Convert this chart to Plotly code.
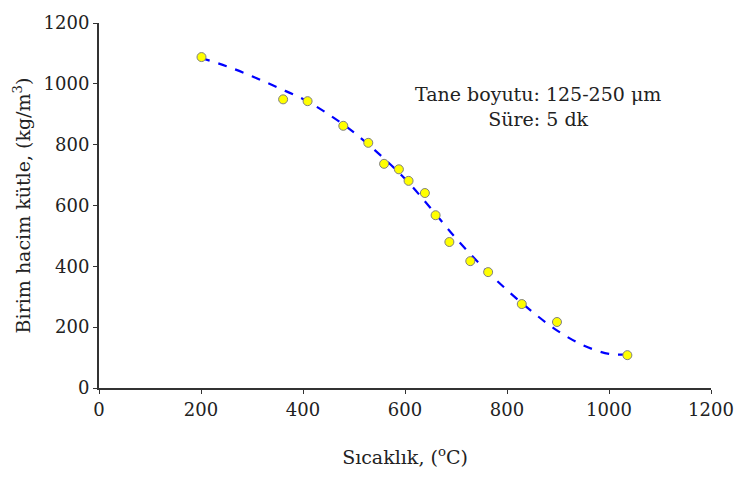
import plotly.graph_objects as go

# Measured points
temp_c = [201, 361, 409, 479, 528, 559, 588, 607, 639, 660, 687, 728, 763, 829, 898, 1036]
density = [1088, 949, 943, 862, 806, 737, 719, 681, 641, 568, 480, 417, 381, 276, 217, 108]

# Trend line (dashed)
trend_x = [200, 250, 300, 350, 400, 450, 500, 550, 600, 650, 700, 750, 800, 850, 900, 950, 1000, 1036]
trend_y = [1085, 1058, 1025, 988, 950, 900, 840, 768, 688, 592, 492, 402, 322, 250, 187, 140, 112, 110]

x_ticks = [0, 200, 400, 600, 800, 1000, 1200]
y_ticks = [0, 200, 400, 600, 800, 1000, 1200]

FONT = "DejaVu Serif"
TXT = "#222222"

fig = go.Figure()
fig.add_trace(go.Scatter(
    x=trend_x, y=trend_y, mode="lines", line_shape="spline",
    line=dict(color="#0000FF", width=2.2, dash="dash"),
    hoverinfo="skip", showlegend=False,
))
fig.add_trace(go.Scatter(
    x=temp_c, y=density, mode="markers",
    marker=dict(size=9, color="#FFFF00", line=dict(color="#7F7F7F", width=1)),
    showlegend=False,
))

axis_common = dict(
    showgrid=False, zeroline=False, showline=True, linecolor="#333333", linewidth=2,
    ticks="outside", ticklen=4, tickcolor="#333333", tickwidth=1,
    tickfont=dict(family=FONT, size=18, color=TXT),
)

fig.update_layout(
    width=746, height=478,
    margin=dict(l=99, r=33, t=17, b=90),
    paper_bgcolor="white", plot_bgcolor="white",
    font=dict(family=FONT, color=TXT),
    xaxis=dict(range=[0, 1200], tickvals=x_ticks,
               title=dict(text="Sıcaklık, (<sup>o</sup>C)", font=dict(family=FONT, size=19, color=TXT), standoff=32),
               **axis_common),
    yaxis=dict(range=[0, 1200], tickvals=y_ticks,
               title=dict(text="Birim hacim kütle, (kg/m<sup>3</sup>)", font=dict(family=FONT, size=19, color=TXT), standoff=8),
               **axis_common),
)

fig.add_annotation(
    xref="x", yref="y", x=860, y=925, showarrow=False,
    text="Tane boyutu: 125-250 μm<br>Süre: 5 dk", align="center",
    font=dict(family=FONT, size=19, color=TXT),
)

fig.write_html("out.html")
